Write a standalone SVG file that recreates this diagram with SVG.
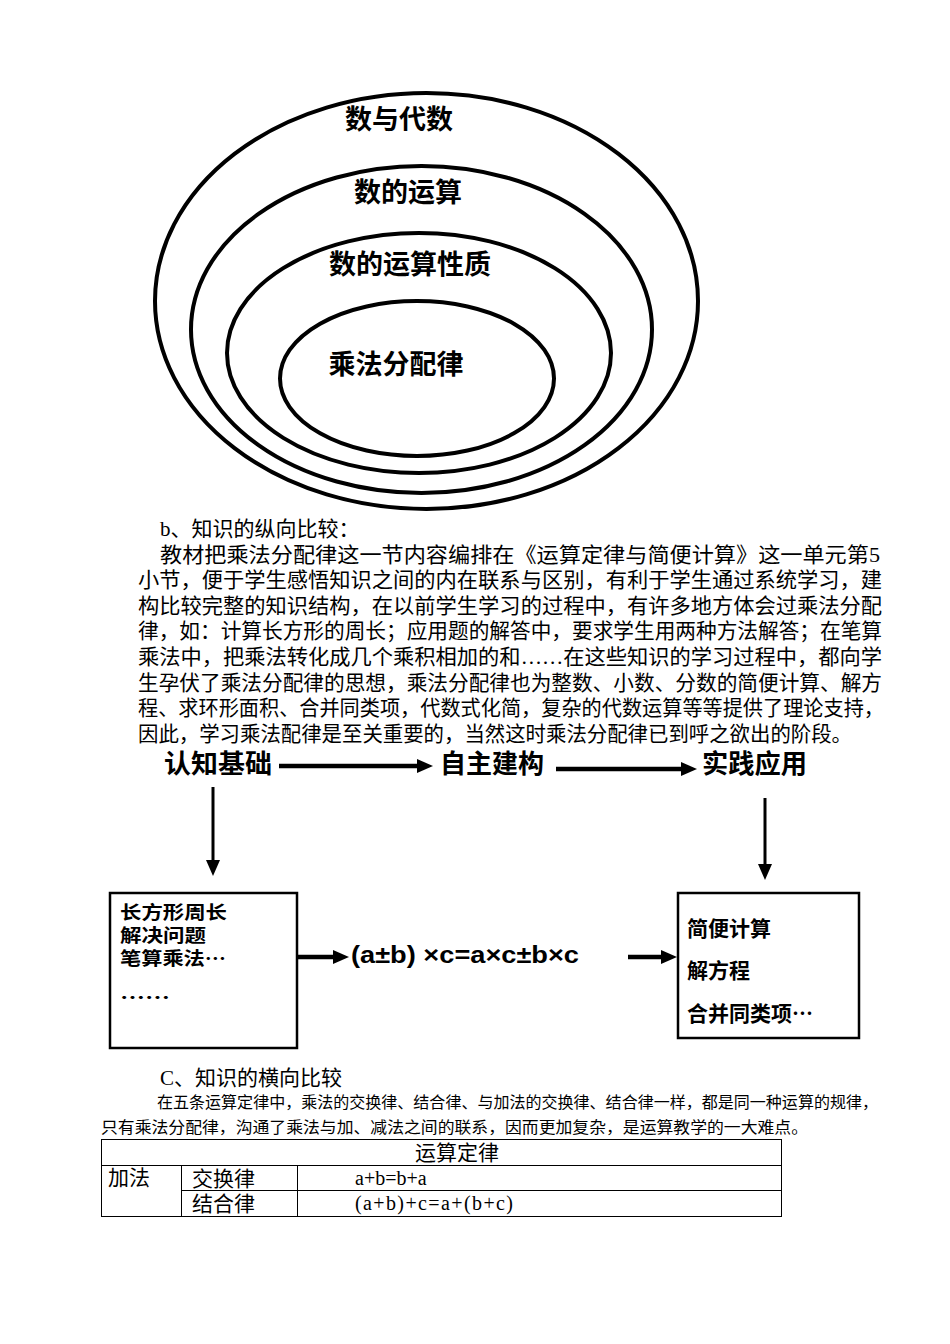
<svg xmlns="http://www.w3.org/2000/svg" width="950" height="1344" viewBox="0 0 950 1344">
<style>
.bg{fill:#fff}
.ell{fill:none;stroke:#000;stroke-width:4}
.lbl{font-family:"Noto Sans CJK SC","Noto Sans CJK JP",sans-serif;font-weight:bold;fill:#000}
.body{font-family:"Liberation Serif","Noto Sans CJK SC",serif;fill:#000}
.box{fill:#fff;stroke:#000;stroke-width:2.5}
.conn{stroke:#000;fill:none}
.tbl{stroke:#000;stroke-width:1;fill:none}
.formula{font-family:"Liberation Sans",Arial,sans-serif;font-weight:bold;fill:#000}
</style>
<defs>
<marker id="ah" markerUnits="userSpaceOnUse" markerWidth="16" markerHeight="14" viewBox="0 0 16 14" refX="0" refY="7" orient="auto">
<path d="M0,0 L16,7 L0,14 z" fill="#000"/>
</marker>
<marker id="ahv" markerUnits="userSpaceOnUse" markerWidth="16" markerHeight="14" viewBox="0 0 16 14" refX="0" refY="7" orient="auto">
<path d="M0,0 L16,7 L0,14 z" fill="#000"/>
</marker>
</defs>
<rect class="bg" x="0" y="0" width="950" height="1344"/>

<g id="ellipse-shuyudaishu">
<ellipse class="ell" cx="426.5" cy="301" rx="271.5" ry="208"/>
<text class="lbl" x="399" y="129" font-size="27" text-anchor="middle">数与代数</text>
</g>
<g id="ellipse-shudeyunsuan">
<ellipse class="ell" cx="421.5" cy="329.5" rx="230.5" ry="163.5"/>
<text class="lbl" x="408" y="202" font-size="27" text-anchor="middle">数的运算</text>
</g>
<g id="ellipse-yunsuanxingzhi">
<ellipse class="ell" cx="419" cy="353" rx="192" ry="120"/>
<text class="lbl" x="410" y="274" font-size="27" text-anchor="middle">数的运算性质</text>
</g>
<g id="ellipse-chengfafenpeilv">
<ellipse class="ell" cx="417" cy="378.5" rx="137" ry="77.5"/>
<text class="lbl" x="396" y="374" font-size="27" text-anchor="middle">乘法分配律</text>
</g>

<g id="paragraph-b">
<text class="body" font-size="21" x="160" y="536">b、知识的纵向比较：</text>
<text class="body" font-size="21" x="160" y="561.6" textLength="720" lengthAdjust="spacingAndGlyphs">教材把乘法分配律这一节内容编排在《运算定律与简便计算》这一单元第5</text>
<text class="body" font-size="21" x="138" y="587.2" textLength="744" lengthAdjust="spacingAndGlyphs">小节，便于学生感悟知识之间的内在联系与区别，有利于学生通过系统学习，建</text>
<text class="body" font-size="21" x="138" y="612.8" textLength="744" lengthAdjust="spacingAndGlyphs">构比较完整的知识结构，在以前学生学习的过程中，有许多地方体会过乘法分配</text>
<text class="body" font-size="21" x="138" y="638.4" textLength="744" lengthAdjust="spacingAndGlyphs">律，如：计算长方形的周长；应用题的解答中，要求学生用两种方法解答；在笔算</text>
<text class="body" font-size="21" x="138" y="664" textLength="744" lengthAdjust="spacingAndGlyphs">乘法中，把乘法转化成几个乘积相加的和……在这些知识的学习过程中，都向学</text>
<text class="body" font-size="21" x="138" y="689.6" textLength="744" lengthAdjust="spacingAndGlyphs">生孕伏了乘法分配律的思想，乘法分配律也为整数、小数、分数的简便计算、解方</text>
<text class="body" font-size="21" x="138" y="715.2" textLength="746" lengthAdjust="spacingAndGlyphs">程、求环形面积、合并同类项，代数式化简，复杂的代数运算等等提供了理论支持，</text>
<text class="body" font-size="21" x="138" y="740.8" textLength="714" lengthAdjust="spacingAndGlyphs">因此，学习乘法配律是至关重要的，当然这时乘法分配律已到呼之欲出的阶段。</text>
</g>

<g id="node-renzhijichu">
<text class="lbl" x="164" y="773" font-size="26" textLength="108" lengthAdjust="spacingAndGlyphs">认知基础</text>
</g>
<g id="node-zizhujiangou">
<text class="lbl" x="440" y="773" font-size="26" textLength="104" lengthAdjust="spacingAndGlyphs">自主建构</text>
</g>
<g id="node-shijianyingyong">
<text class="lbl" x="702" y="773" font-size="26" textLength="105" lengthAdjust="spacingAndGlyphs">实践应用</text>
</g>
<g id="node-left-box">
<rect class="box" x="110" y="893" width="187" height="155"/>
<text class="lbl" x="120" y="919" font-size="18" textLength="107" lengthAdjust="spacingAndGlyphs">长方形周长</text>
<text class="lbl" x="120" y="942" font-size="18" textLength="86" lengthAdjust="spacingAndGlyphs">解决问题</text>
<text class="lbl" x="120" y="965" font-size="18" textLength="106" lengthAdjust="spacingAndGlyphs">笔算乘法…</text>
<text class="lbl" x="120" y="1004" font-size="18" textLength="50" lengthAdjust="spacingAndGlyphs">……</text>
</g>
<g id="node-formula">
<text class="formula" x="351" y="963" font-size="23" textLength="228" lengthAdjust="spacingAndGlyphs">(a±b) ×c=a×c±b×c</text>
</g>
<g id="node-right-box">
<rect class="box" x="678" y="893" width="181" height="145"/>
<text class="lbl" x="687" y="936" font-size="21">简便计算</text>
<text class="lbl" x="687" y="978" font-size="21">解方程</text>
<text class="lbl" x="687" y="1021" font-size="21">合并同类项…</text>
</g>

<g id="connectors">
<line class="conn" x1="279" y1="766" x2="417" y2="766" stroke-width="4.5" marker-end="url(#ah)"/>
<line class="conn" x1="556" y1="769" x2="681" y2="769" stroke-width="4.5" marker-end="url(#ah)"/>
<line class="conn" x1="213" y1="787" x2="213" y2="860" stroke-width="3" marker-end="url(#ahv)"/>
<line class="conn" x1="765" y1="798" x2="765" y2="864" stroke-width="3" marker-end="url(#ahv)"/>
<line class="conn" x1="298" y1="957" x2="333" y2="957" stroke-width="4.5" marker-end="url(#ah)"/>
<line class="conn" x1="628" y1="957" x2="661" y2="957" stroke-width="4.5" marker-end="url(#ah)"/>
</g>

<g id="paragraph-c">
<text class="body" font-size="21" x="160" y="1085">C、知识的横向比较</text>
<text class="body" font-size="16" x="157" y="1108" textLength="721" lengthAdjust="spacingAndGlyphs">在五条运算定律中，乘法的交换律、结合律、与加法的交换律、结合律一样，都是同一种运算的规律，</text>
<text class="body" font-size="16" x="101" y="1133" textLength="707" lengthAdjust="spacingAndGlyphs">只有乘法分配律，沟通了乘法与加、减法之间的联系，因而更加复杂，是运算教学的一大难点。</text>
</g>

<g id="table">
<rect class="tbl" x="101.5" y="1139.5" width="680" height="77"/>
<line class="tbl" x1="101.5" y1="1165.5" x2="781.5" y2="1165.5"/>
<line class="tbl" x1="181.5" y1="1190.5" x2="781.5" y2="1190.5"/>
<line class="tbl" x1="181.5" y1="1165.5" x2="181.5" y2="1216.5"/>
<line class="tbl" x1="297.5" y1="1165.5" x2="297.5" y2="1216.5"/>
<text class="body" font-size="21" x="457" y="1160" text-anchor="middle">运算定律</text>
<text class="body" font-size="21" x="108" y="1185">加法</text>
<text class="body" font-size="21" x="192" y="1186">交换律</text>
<text class="body" font-size="20" x="355" y="1185">a+b=b+a</text>
<text class="body" font-size="21" x="192" y="1211">结合律</text>
<text class="body" font-size="20" x="355" y="1210" textLength="158" lengthAdjust="spacing">(a+b)+c=a+(b+c)</text>
</g>
</svg>
